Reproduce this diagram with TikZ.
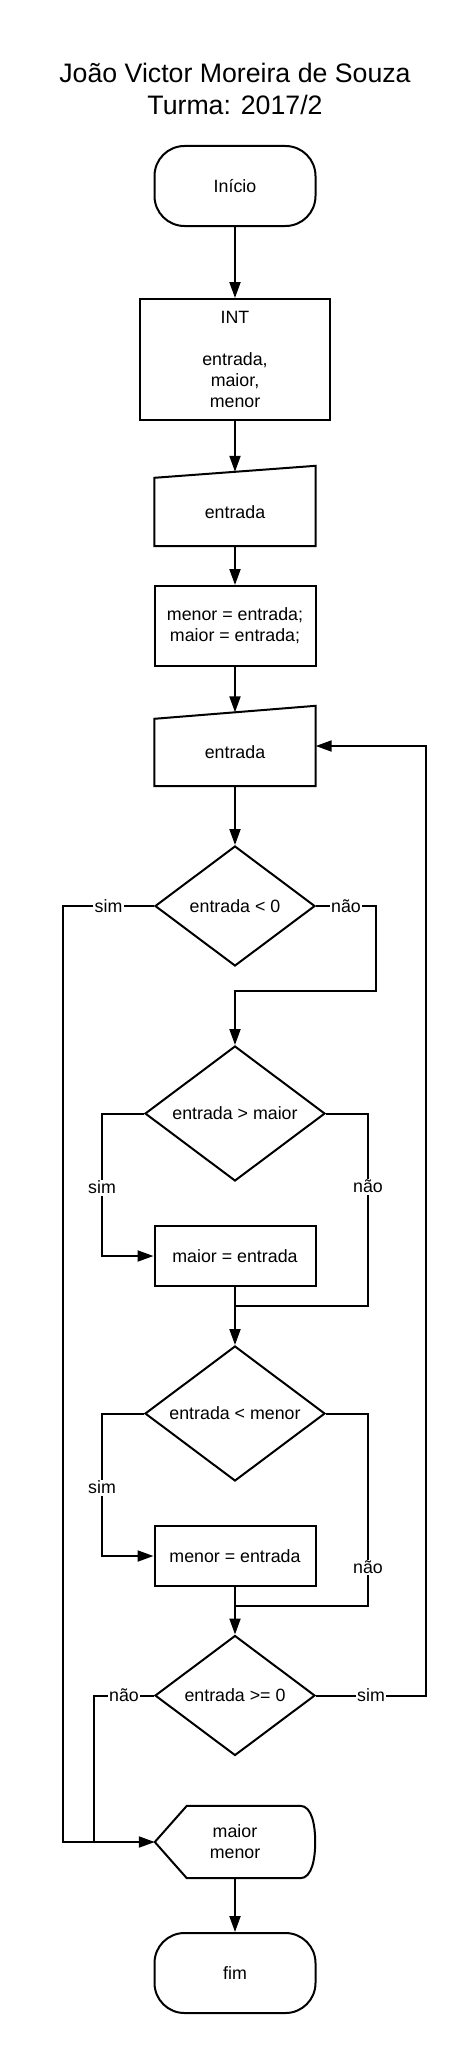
\documentclass[tikz,border=0pt]{standalone}
\usepackage{fontspec}
\setmainfont{Liberation Sans}
\usetikzlibrary{shapes.geometric,arrows.meta,calc}
\begin{document}
\begin{tikzpicture}[x=1pt,y=-1pt,
  every node/.style={font=\fontsize{17.8}{21}\selectfont, inner sep=0pt},
  ln/.style={line width=2pt},
  arr/.style={line width=2pt,-{Triangle[length=16pt,width=11pt]}},
  term/.style={draw,line width=2pt,rounded corners=30pt,minimum width=161pt,minimum height=80pt},
  procbox/.style={draw,line width=2pt,minimum width=161pt,align=center},
  dec/.style={draw,line width=2pt,diamond,shape aspect=1.333,inner sep=0pt},
  lbl/.style={fill=white,inner sep=1.5pt},
  ghost/.style={minimum width=161pt,align=center},
  titlef/.style={font=\fontsize{26.7}{32}\selectfont, anchor=base}
]
\useasboundingbox (0,0) rectangle (470,2055);
\fill[white] (0,0) rectangle (470,2055);

% title
\node[titlef] (t1) at (235,82.7) {João Victor Moreira de Souza};
\node[titlef] (t2) at (235,115) {Turma: 2017/2};

% nodes
\node[term] (ini) at (235,186) {Início};
\node[procbox, minimum width=190pt, minimum height=121pt] (decl) at (235,359.5) {INT\\\mbox{}\\entrada,\\maior,\\menor};

\node[ghost, minimum height=68pt] (in1) at (235,512) {entrada};
\draw[ln] (in1.south west) -- (in1.south east) -- ($(in1.north east)+(0,-12)$) -- (in1.north west) -- cycle;
\coordinate (in1top) at ($(in1.north)+(0,-6)$);

\node[procbox, minimum height=80pt] (b2) at (235,626) {menor = entrada;\\maior = entrada;};

\node[ghost, minimum height=67pt] (in2) at (235,752.5) {entrada};
\draw[ln] (in2.south west) -- (in2.south east) -- ($(in2.north east)+(0,-13)$) -- (in2.north west) -- cycle;
\coordinate (in2top) at ($(in2.north)+(0,-6.5)$);

\node[dec, minimum width=160pt, minimum height=120pt] (d1) at (235,906) {entrada < 0};
\node[dec, minimum width=180pt, minimum height=135pt] (d2) at (235,1113.5) {entrada > maior};
\node[procbox, minimum height=60pt] (mx) at (235,1256) {maior = entrada};
\node[dec, minimum width=180pt, minimum height=135pt] (d3) at (235,1413.5) {entrada < menor};
\node[procbox, minimum height=60pt] (mn) at (235,1556) {menor = entrada};
\node[dec, minimum width=160pt, minimum height=120pt] (d4) at (235,1695.5) {entrada >= 0};

\node[ghost, minimum width=160pt, minimum height=72pt] (disp) at (235,1842) {maior\\menor};
\draw[ln] (disp.west) -- ($(disp.north west)+(32,0)$) -- ($(disp.north east)+(-15,0)$)
  .. controls ($(disp.north east)+(-3,0)$) and ($(disp.east)+(0,-16)$) .. (disp.east)
  .. controls ($(disp.east)+(0,16)$) and ($(disp.south east)+(-3,0)$) .. ($(disp.south east)+(-15,0)$)
  -- ($(disp.south west)+(32,0)$) -- cycle;

\node[term] (fim) at (235,1973) {fim};

% merge points
\coordinate (m1) at (235,991);
\coordinate (m2) at (235,1306);
\coordinate (m3) at (235,1606);
\coordinate (j) at (95,1842);

% connectors
\draw[arr] (ini) -- (decl);
\draw[arr] (decl) -- (in1top);
\draw[arr] (in1) -- (b2);
\draw[arr] (b2) -- (in2top);
\draw[arr] (in2) -- (d1);

\draw[arr] (d1.west) -- node[lbl]{sim} ++(-91,0) |- (disp.west);
\draw[arr] (d1.east) -- node[lbl]{não} ++(60,0) |- (m1) -- (d2);

\draw[arr] (d2.west) -- ++(-42,0) |- node[lbl,pos=0.26]{sim} (mx.west);
\draw[ln] (d2.east) -- ++(42,0) |- node[lbl,pos=0.19]{não} (m2);
\draw[arr] (mx) -- (d3);

\draw[arr] (d3.west) -- ++(-42,0) |- node[lbl,pos=0.26]{sim} (mn.west);
\draw[ln] (d3.east) -- ++(42,0) |- node[lbl,pos=0.40]{não} (m3);
\draw[arr] (mn) -- (d4);

\draw[ln] (d4.west) -- node[lbl]{não} ++(-60,0) |- (j);
\draw[arr] (d4.east) -- node[lbl]{sim} ++(110,0) |- ([yshift=6.5pt]in2.east);

\draw[arr] (disp) -- (fim);
\end{tikzpicture}
\end{document}
